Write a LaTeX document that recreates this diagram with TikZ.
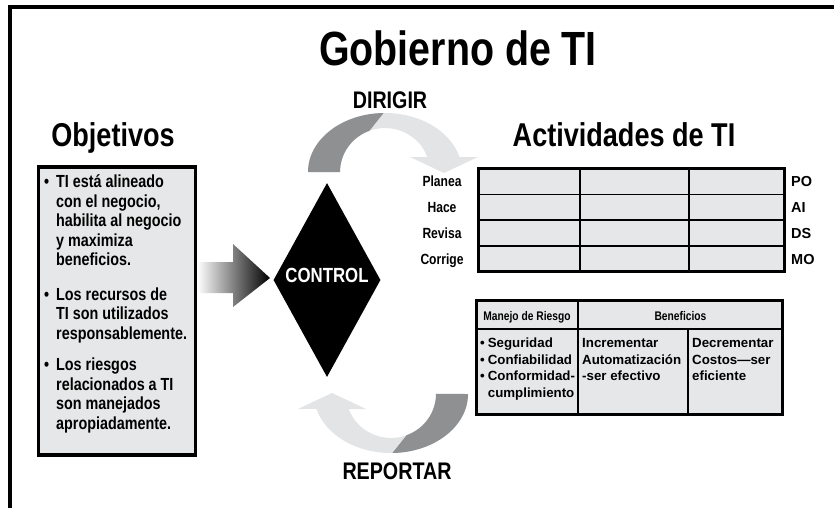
\documentclass[tikz,border=0pt]{standalone}
\usepackage{fontspec}
\setmainfont{Liberation Sans}
\newfontfamily\condfont[FakeStretch=0.82]{Liberation Sans}
\usetikzlibrary{shapes.geometric}

\definecolor{boxgray}{RGB}{230,231,232}
\definecolor{arcdark}{RGB}{143,144,146}
\definecolor{arclight}{RGB}{227,228,229}

\begin{document}
\begin{tikzpicture}[x=1pt, y=-1pt, inner sep=0pt,
  frameln/.style={line width=4pt},
  bigttl/.style={font=\condfont\bfseries\fontsize{48}{52}\selectfont, anchor=base},
  heading/.style={font=\condfont\bfseries\fontsize{33}{36}\selectfont, anchor=base},
  cyclbl/.style={font=\condfont\bfseries\fontsize{24}{26}\selectfont, anchor=base},
  objbox/.style={draw, line width=3.5pt, fill=boxgray, minimum width=157pt, minimum height=288pt},
  objtxt/.style={font=\condfont\bfseries\fontsize{17.5}{19.5}\selectfont, anchor=north west, align=left},
  ctrlnode/.style={diamond, fill=black, minimum width=107pt, minimum height=194pt},
  ctrllbl/.style={font=\condfont\bfseries\fontsize{20.5}{22}\selectfont, text=white},
  feedarrow/.style={left color=gray!5, right color=black},
  tabframe/.style={draw, line width=3pt, fill=boxgray},
  tabline/.style={line width=1.5pt},
  rowlbl/.style={font=\condfont\bfseries\fontsize{14.75}{16}\selectfont, anchor=base},
  codelbl/.style={font=\bfseries\fontsize{14.5}{16}\selectfont, anchor=base west},
  hdrlbl/.style={font=\condfont\bfseries\fontsize{12.5}{15}\selectfont, anchor=base},
  celltxt/.style={font=\bfseries\fontsize{13.3}{16.5}\selectfont, anchor=north west, align=left}
]
  \useasboundingbox (0,0) rectangle (834,508);

  % frame
  \draw[frameln] (9.5,508) -- (9.5,7) -- (834,7);

  % titles
  \node[bigttl] (ttl) at (458,66) {Gobierno de TI};
  \node[heading] (objhd) at (113,146) {Objetivos};
  \node[heading] (acthd) at (624,146) {Actividades de TI};

  % objectives
  \node[objbox] (obj) at (117,311) {};
  \node[objtxt] (objlist) at (44,174) {%
    \begin{tabular}{@{}l@{\hspace{7pt}}l@{}}
      • & TI está alineado\\
        & con el negocio,\\
        & habilita al negocio\\
        & y maximiza\\
        & beneficios.\\[15pt]
      • & Los recursos de\\
        & TI son utilizados\\
        & responsablemente.\\[12pt]
      • & Los riesgos\\
        & relacionados a TI\\
        & son manejados\\
        & apropiadamente.
    \end{tabular}};

  % arrow into control
  \shade[feedarrow] (199,262) -- (233,262) -- (233,244) -- (270,278)
    -- (233,307) -- (233,293) -- (199,293) -- cycle;

  % control
  \node[ctrlnode] (ctrl) at (327,280) {};
  \node[ctrllbl] (ctrltxt) at (327,275) {CONTROL};

  % dirigir / reportar arcs
  \foreach \rot in {0,180} {
    \begin{scope}[rotate around={\rot:(388,283)}]
      \fill[arclight] (308,172) arc[start angle=180, end angle=345.3, x radius=77, y radius=59]
        -- (478,157) -- (444,173) -- (410,157) -- (427.3,157)
        arc[start angle=340, end angle=180, x radius=45, y radius=44] -- cycle;
      \begin{scope}
        \clip (290,90) -- (394,100) -- (362,140) -- (345,190) -- (290,190) -- cycle;
        \fill[arcdark] (308,172) arc[start angle=180, end angle=345.3, x radius=77, y radius=59]
          -- (478,157) -- (444,173) -- (410,157) -- (427.3,157)
          arc[start angle=340, end angle=180, x radius=45, y radius=44] -- cycle;
      \end{scope}
    \end{scope}
  }
  \node[cyclbl] (dir) at (390,108) {DIRIGIR};
  \node[cyclbl] (rep) at (397,479) {REPORTAR};

  % activities table
  \draw[tabframe] (478.5,168.5) rectangle (784.5,271.5);
  \foreach \xx in {580,689}
    \draw[tabline] (\xx,168.5) -- (\xx,271.5);
  \foreach \yy in {194.25,220,245.75}
    \draw[tabline] (478.5,\yy) -- (784.5,\yy);
  \foreach \lbl/\cod [count=\i] in {Planea/PO, Hace/AI, Revisa/DS, Corrige/MO} {
    \node[rowlbl] (row\i) at (442,{161.1+25.75*\i}) {\lbl};
    \node[codelbl] (cod\i) at (791,{161.1+25.75*\i}) {\cod};
  }

  % risk / benefits table
  \draw[tabframe] (476.5,300.5) rectangle (782.5,414.5);
  \draw[tabline] (476.5,329) -- (782.5,329);
  \draw[tabline] (578,300.5) -- (578,414.5);
  \draw[tabline] (688,329) -- (688,414.5);
  \node[hdrlbl] (riskhd) at (527,320) {Manejo de Riesgo};
  \node[hdrlbl] (benhd) at (680.5,320) {Beneficios};
  \node[celltxt] (risk) at (480,336) {%
    \begin{tabular}{@{}l@{\hspace{3pt}}l@{}}
      • & Seguridad\\
      • & Confiabilidad\\
      • & Conformidad-\\
        & cumplimiento
    \end{tabular}};
  \node[celltxt] (auto) at (582,336) {%
    \begin{tabular}{@{}l@{}}
      Incrementar\\ Automatización\\ -ser efectivo
    \end{tabular}};
  \node[celltxt] (cost) at (692,336) {%
    \begin{tabular}{@{}l@{}}
      Decrementar\\ Costos—ser\\ eficiente
    \end{tabular}};
\end{tikzpicture}
\end{document}
